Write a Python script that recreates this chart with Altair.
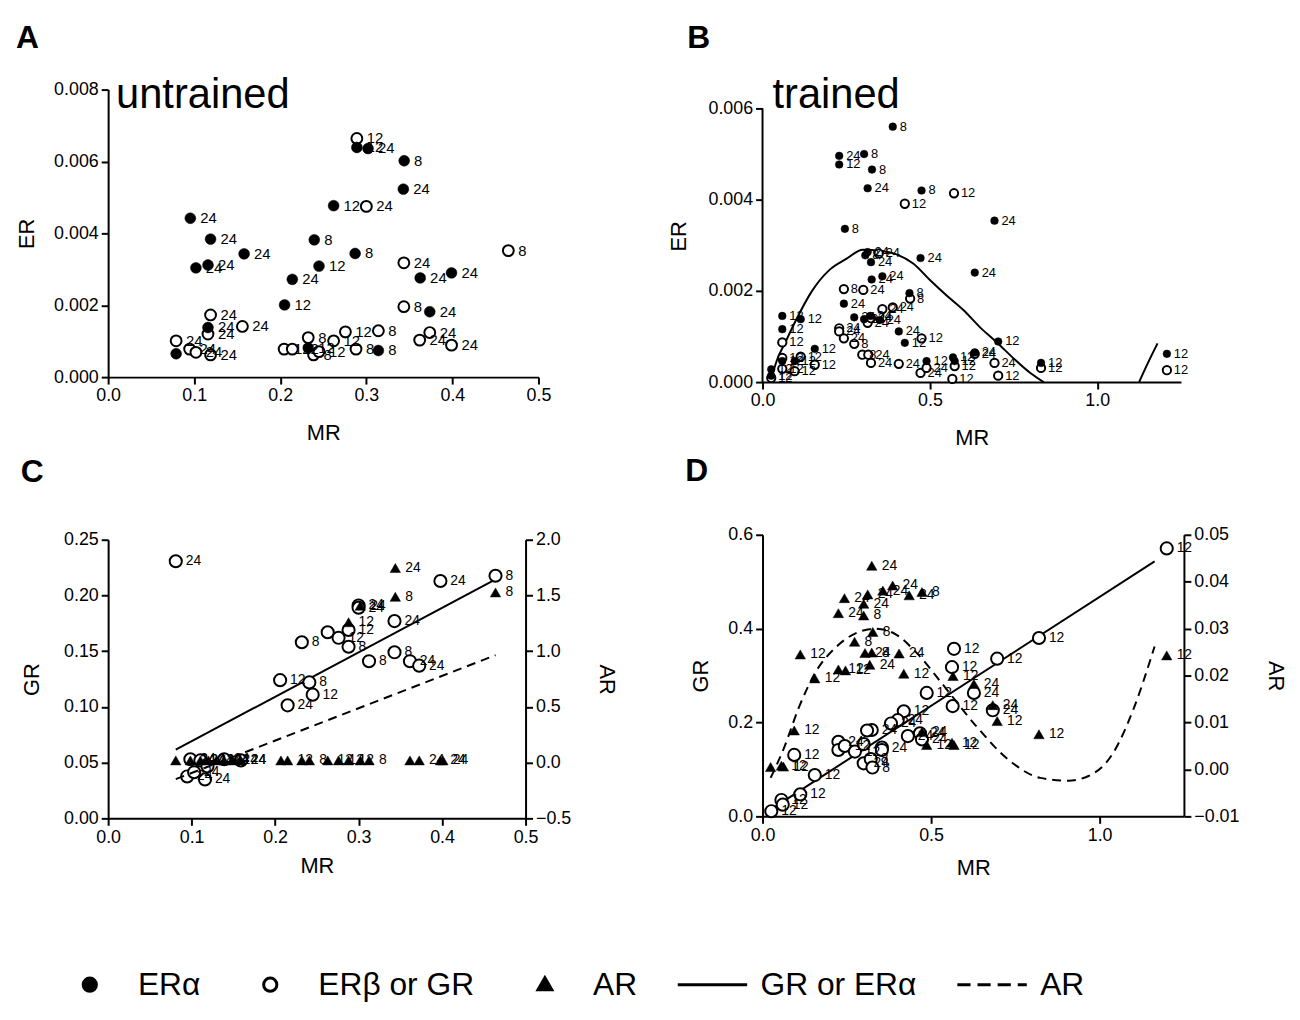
import altair as alt
import pandas as pd

FONT = "Liberation Sans, Arial, sans-serif"

# ---------------- Panel A (untrained) ----------------
A_era_x = [0.289, 0.302, 0.344, 0.343, 0.262, 0.0955, 0.119, 0.2395, 0.158, 0.287, 0.102, 0.116,
           0.245, 0.214, 0.3626, 0.399, 0.205, 0.3737, 0.116, 0.079, 0.2325, 0.314]
A_era_y = [0.00639, 0.00636, 0.00602, 0.00523, 0.00477, 0.00442, 0.00384, 0.00382, 0.00343, 0.00344,
           0.00304, 0.00312, 0.00309, 0.00272, 0.00276, 0.0029, 0.00201, 0.00182, 0.00138, 0.00065,
           0.00081, 0.00074]
A_era_lab = ["12", "24", "8", "24", "12", "24", "24", "8", "24", "8", "24", "24", "12", "24", "24", "24",
             "12", "24", "24", "", "12", "8"]

A_erb_x = [0.289, 0.300, 0.465, 0.3436, 0.3436, 0.119, 0.156, 0.116, 0.2757, 0.314, 0.3737, 0.362,
           0.399, 0.079, 0.0947, 0.102, 0.119, 0.2325, 0.262, 0.2045, 0.214, 0.2387, 0.245, 0.288]
A_erb_y = [0.00664, 0.00475, 0.00352, 0.00318, 0.00196, 0.00173, 0.00141, 0.0012, 0.00126, 0.00129,
           0.00124, 0.00103, 0.00089, 0.00101, 0.00078, 0.00069, 0.00062, 0.0011, 0.00101, 0.00078,
           0.00078, 0.00062, 0.00071, 0.00078]
A_erb_lab = ["12", "24", "8", "24", "8", "24", "24", "24", "12", "8", "24", "24", "24", "24", "24", "24",
             "24", "8", "12", "12", "12", "8", "12", "8"]

# ---------------- Panel B (trained) ----------------
B_era_x = [0.389, 0.229, 0.3035, 0.229, 0.327, 0.314, 0.475, 0.693, 0.246, 0.314, 0.307, 0.324, 0.472,
           0.634, 0.326, 0.358, 0.439, 0.243, 0.274, 0.3035, 0.322, 0.35, 0.059, 0.059, 0.114, 0.407,
           0.425, 0.704, 0.156, 0.096, 0.49, 0.569, 0.574, 0.634, 0.832, 1.208, 0.026, 0.026, 0.059]
B_era_y = [0.0056, 0.00496, 0.005, 0.00477, 0.00466, 0.00425, 0.0042, 0.00354, 0.00336, 0.00285,
           0.00278, 0.00263, 0.00272, 0.0024, 0.00225, 0.00232, 0.00195, 0.00172, 0.00142, 0.00138,
           0.00145, 0.00136, 0.00145, 0.00116, 0.00138, 0.00111, 0.00086, 0.00089, 0.00073, 0.00046,
           0.00046, 0.00054, 0.00046, 0.00065, 0.00042, 0.00062, 0.00028, 0.00014, 0.00046]
B_era_lab = ["8", "24", "8", "12", "8", "24", "8", "24", "8", "24", "8", "24", "24", "24", "24", "24",
             "8", "24", "24", "24", "24", "24", "12", "12", "12", "24", "12", "12", "12", "12", "12",
             "12", "12", "24", "12", "12", "12", "12", "12"]

B_erb_x = [0.425, 0.572, 0.347, 0.243, 0.301, 0.441, 0.358, 0.389, 0.314, 0.324, 0.229, 0.229, 0.243,
           0.274, 0.475, 0.059, 0.298, 0.316, 0.324, 0.407, 0.472, 0.49, 0.567, 0.634, 0.693, 0.704,
           0.832, 1.208, 0.059, 0.096, 0.114, 0.156, 0.059, 0.026, 0.574]
B_erb_y = [0.00391, 0.00414, 0.00282, 0.00204, 0.00202, 0.00183, 0.0016, 0.00164, 0.0013, 0.0014,
           0.00118, 0.00111, 0.00096, 0.00084, 0.00096, 0.00087, 0.0006, 0.0006, 0.00042, 0.0004,
           0.0002, 0.00031, 0.00007, 0.00062, 0.00042, 0.00014, 0.00031, 0.00026, 0.00053, 0.00024,
           0.00056, 0.00038, 0.00029, 0.00009, 0.00035]
B_erb_lab = ["12", "12", "24", "8", "24", "8", "24", "24", "24", "24", "24", "24", "24", "8", "12", "12",
             "8", "24", "24", "24", "24", "24", "12", "24", "24", "12", "12", "12", "12", "12", "12",
             "12", "12", "12", "12"]

# ERalpha fit curve, two visible pieces
B_fit_x = [0.023, 0.044, 0.07, 0.096, 0.148, 0.20, 0.25, 0.30, 0.35, 0.40, 0.45, 0.50, 0.55, 0.60,
           0.65, 0.70, 0.75, 0.80, 0.84, 1.125, 1.15, 1.18]
B_fit_y = [0.0, 0.0005, 0.0009, 0.0013, 0.0020, 0.00246, 0.0027, 0.0029, 0.00288, 0.0028, 0.0026,
           0.00224, 0.0019, 0.00158, 0.0012, 0.00087, 0.00052, 0.0002, 0.0, 0.0, 0.0004, 0.00085]
B_fit_seg = [1] * 19 + [2] * 3

# ---------------- Panel C ----------------
C_gr_x = [0.081, 0.464, 0.398, 0.300, 0.300, 0.343, 0.288, 0.263, 0.276, 0.232, 0.288, 0.343, 0.3125,
          0.3615, 0.3726, 0.206, 0.241, 0.245, 0.215, 0.0947, 0.103, 0.116, 0.0985, 0.1105, 0.119,
          0.159, 0.139]
C_gr_y = [0.2307, 0.2177, 0.213, 0.191, 0.189, 0.177, 0.169, 0.167, 0.162, 0.158, 0.154, 0.149, 0.141,
          0.141, 0.137, 0.124, 0.122, 0.111, 0.1014, 0.0376, 0.0414, 0.0349, 0.053, 0.052, 0.0467,
          0.052, 0.053]
C_gr_lab = ["24", "8", "24", "24", "24", "24", "12", "", "12", "8", "8", "8", "8", "24", "24", "12", "8",
            "12", "24", "24", "24", "24", "24", "24", "", "24", "24"]

C_ar_x = [0.344, 0.344, 0.464, 0.288, 0.302, 0.081, 0.0985, 0.1105, 0.12, 0.13, 0.139, 0.149, 0.159,
          0.207, 0.215, 0.232, 0.241, 0.263, 0.276, 0.288, 0.302, 0.3125, 0.3615, 0.3726, 0.398, 0.401]
C_ar_y = [1.746, 1.488, 1.527, 1.26, 1.408] + [0.02] * 21
C_ar_lab = ["24", "8", "8", "12", "24", "", "24", "24", "24", "24", "24", "24", "24", "", "12", "", "8",
            "12", "12", "12", "", "8", "", "24", "24", "24"]

C_grfit_x = [0.081, 0.464]
C_grfit_y = [0.0616, 0.2145]
C_arfit_x = [0.081, 0.464]
C_arfit_y = [-0.148, 0.964]

# ---------------- Panel D ----------------
D_gr_x = [1.199, 0.820, 0.696, 0.568, 0.562, 0.487, 0.627, 0.564, 0.683, 0.419, 0.401, 0.381, 0.431,
          0.467, 0.473, 0.324, 0.31, 0.225, 0.225, 0.244, 0.274, 0.30, 0.354, 0.354, 0.30, 0.321, 0.326,
          0.094, 0.155, 0.112, 0.056, 0.06, 0.026]
D_gr_y = [0.571, 0.380, 0.336, 0.357, 0.318, 0.263, 0.263, 0.235, 0.226, 0.224, 0.205, 0.198, 0.171,
          0.177, 0.164, 0.184, 0.183, 0.159, 0.1415, 0.15, 0.138, 0.154, 0.1465, 0.1415, 0.113, 0.122,
          0.104, 0.131, 0.088, 0.047, 0.035, 0.025, 0.011]
D_gr_lab = ["12", "12", "12", "12", "12", "12", "24", "12", "24", "12", "24", "24", "24", "24", "24",
            "24", "", "24", "", "12", "12", "", "24", "", "24", "8", "8", "12", "12", "12", "12", "12",
            "12"]

D_ar_x = [0.324, 0.386, 0.357, 0.312, 0.435, 0.473, 0.243, 0.30, 0.225, 0.30, 0.327, 0.273, 0.112,
          0.304, 0.324, 0.405, 0.318, 0.225, 0.246, 0.419, 0.155, 0.565, 0.627, 0.683, 0.696, 0.820,
          0.094, 0.473, 0.487, 0.562, 0.568, 0.024, 0.056, 0.062, 1.199]
D_ar_y = [0.0434, 0.0392, 0.0381, 0.0373, 0.0371, 0.0378, 0.0365, 0.0353, 0.0333, 0.0328, 0.0293,
          0.0272, 0.0245, 0.0248, 0.0249, 0.0247, 0.0223, 0.0213, 0.0211, 0.0204, 0.0194, 0.0199,
          0.0182, 0.0137, 0.0103, 0.0075, 0.0083, 0.008, 0.0052, 0.0057, 0.0052, 0.0005, 0.0008,
          0.0006, 0.0243]
D_ar_lab = ["24", "24", "24", "24", "24", "8", "24", "24", "24", "8", "8", "8", "12", "24", "8", "24",
            "24", "12", "12", "12", "12", "12", "24", "24", "12", "12", "12", "24", "12", "12", "12", "",
            "12", "12", "12"]

D_grfit_x = [0.008, 1.163]
D_grfit_y = [0.007, 0.5435]
D_arfit_x = [0.024, 0.062, 0.11, 0.157, 0.217, 0.276, 0.336, 0.395, 0.455, 0.538, 0.633, 0.729, 0.824,
             0.907, 0.967, 1.04, 1.10, 1.163]
D_arfit_y = [-0.0018, 0.0043, 0.0136, 0.0207, 0.026, 0.029, 0.030, 0.0288, 0.025, 0.0178, 0.0093,
             0.0021, -0.0018, -0.0024, -0.0014, 0.0035, 0.0128, 0.0262]

# ---------------- Legend ----------------
leg_keys = ["k1", "k2", "k3", "k4", "k5"]
leg_labels = ["ERα", "ERβ or GR", "AR", "GR or ERα", "AR"]


def df(x, y, lab=None):
    d = {"x": x, "y": y}
    if lab is not None:
        d["lab"] = lab
    return pd.DataFrame(d)


def pts(data, X, Y, filled, size, shape="circle", sw=2.0):
    if filled:
        m = alt.Chart(data).mark_point(shape=shape, filled=True, fill="black", stroke="black",
                                       strokeWidth=0.5, size=size, opacity=1)
    else:
        m = alt.Chart(data).mark_point(shape=shape, filled=False, fill="white", stroke="black",
                                       strokeWidth=sw, size=size, opacity=1, fillOpacity=1)
    return m.encode(x=X, y=Y)


def labs(data, X, Y, fs=14, dx=9):
    return alt.Chart(data).mark_text(align="left", baseline="middle", dx=dx, fontSize=fs, font=FONT,
                                     color="black").encode(x=X, y=Y, text="lab:N")


def xenc(dom, vals, tp):
    return alt.X("x:Q", scale=alt.Scale(domain=dom, nice=False, zero=False),
                 axis=alt.Axis(values=vals, format=".1f", title="MR", titlePadding=tp))


def ttl(letter, offset, dx):
    return alt.TitleParams(letter, anchor="start", offset=offset, dx=dx, frame="bounds",
                           fontSize=32, fontWeight="bold", font=FONT, color="black")


# ---- A ----
XA = xenc([0, 0.5], [0, 0.1, 0.2, 0.3, 0.4, 0.5], 18)
YA = alt.Y("y:Q", scale=alt.Scale(domain=[0, 0.008], nice=False),
           axis=alt.Axis(values=[0, 0.002, 0.004, 0.006, 0.008], format=".3f", title="ER", titlePadding=15))
dA1 = df(A_era_x, A_era_y, A_era_lab)
dA2 = df(A_erb_x, A_erb_y, A_erb_lab)
txtA = alt.Chart(pd.DataFrame({"t": ["untrained"]})).mark_text(
    align="left", baseline="alphabetic", fontSize=42, font=FONT, color="black").encode(
    text="t:N", x=alt.value(8), y=alt.value(19))
panelA = alt.layer(
    pts(dA2, XA, YA, False, 120), pts(dA1, XA, YA, True, 120),
    labs(dA1, XA, YA, 15, 10), labs(dA2, XA, YA, 15, 10), txtA
).properties(width=434, height=290, title=ttl("A", 20, 0))

# ---- B ----  (plot box 19px taller than the 0..0.006 span, the axis line is drawn up to 0.006 only)
XB = xenc([0, 1.25], [0, 0.5, 1.0], 18)
YB = alt.Y("y:Q", scale=alt.Scale(domain=[0, 0.006413], nice=False),
           axis=alt.Axis(values=[0, 0.002, 0.004, 0.006], format=".3f", title="ER", titlePadding=18,
                         domain=False))
dB1 = df(B_era_x, B_era_y, B_era_lab)
dB2 = df(B_erb_x, B_erb_y, B_erb_lab)
dBf = pd.DataFrame({"x": B_fit_x, "y": B_fit_y, "seg": B_fit_seg})
fitB = alt.Chart(dBf).mark_line(color="black", strokeWidth=2, interpolate="monotone").encode(
    x=XB, y=YB, detail="seg:N")
axisB = alt.Chart(pd.DataFrame({"y": [0.0], "y2": [0.006]})).mark_rule(
    color="black", strokeWidth=2).encode(x=alt.value(0), y=YB, y2="y2:Q")
txtB = alt.Chart(pd.DataFrame({"t": ["trained"]})).mark_text(
    align="left", baseline="alphabetic", fontSize=42, font=FONT, color="black").encode(
    text="t:N", x=alt.value(10), y=alt.value(19))
panelB = alt.layer(
    axisB, fitB, pts(dB2, XB, YB, False, 70), pts(dB1, XB, YB, True, 60),
    labs(dB1, XB, YB, 13, 7), labs(dB2, XB, YB, 13, 7), txtB
).properties(width=422, height=295, title=ttl("B", 20, 20))

# ---- C ----
XC = xenc([0, 0.5], [0, 0.1, 0.2, 0.3, 0.4, 0.5], 10)
YCl = alt.Y("y:Q", scale=alt.Scale(domain=[0, 0.25], nice=False),
            axis=alt.Axis(values=[0, 0.05, 0.10, 0.15, 0.20, 0.25], format=".2f", title="GR",
                          titlePadding=20))
YCr = alt.Y("y:Q", scale=alt.Scale(domain=[-0.5, 2.0], nice=False),
            axis=alt.Axis(values=[-0.5, 0, 0.5, 1.0, 1.5, 2.0], format=".1f", title="AR", orient="right",
                          titlePadding=24))
dCg = df(C_gr_x, C_gr_y, C_gr_lab)
dCa = df(C_ar_x, C_ar_y, C_ar_lab)
leftC = alt.layer(
    alt.Chart(df(C_grfit_x, C_grfit_y)).mark_line(color="black", strokeWidth=2).encode(x=XC, y=YCl),
    pts(dCg, XC, YCl, False, 150),
    labs(dCg, XC, YCl, 14, 10),
)
rightC = alt.layer(
    alt.Chart(df(C_arfit_x, C_arfit_y)).mark_line(color="black", strokeWidth=2, strokeDash=[9, 6]).encode(
        x=XC, y=YCr),
    pts(dCa, XC, YCr, True, 110, shape="triangle-up"),
    labs(dCa, XC, YCr, 14, 10),
)
panelC = alt.layer(leftC, rightC).resolve_scale(y="independent").properties(
    width=421, height=281, title=ttl("C", 42, 0))

# ---- D ----
XD = xenc([0, 1.25], [0, 0.5, 1.0], 14)
YDl = alt.Y("y:Q", scale=alt.Scale(domain=[0, 0.6], nice=False),
            axis=alt.Axis(values=[0, 0.2, 0.4, 0.6], format=".1f", title="GR", titlePadding=15))
YDr = alt.Y("y:Q", scale=alt.Scale(domain=[-0.01, 0.05], nice=False),
            axis=alt.Axis(values=[-0.01, 0, 0.01, 0.02, 0.03, 0.04, 0.05], format=".2f", title="AR",
                          orient="right", titlePadding=25))
dDg = df(D_gr_x, D_gr_y, D_gr_lab)
dDa = df(D_ar_x, D_ar_y, D_ar_lab)
leftD = alt.layer(
    alt.Chart(df(D_grfit_x, D_grfit_y)).mark_line(color="black", strokeWidth=2).encode(x=XD, y=YDl),
    pts(dDg, XD, YDl, False, 150),
    labs(dDg, XD, YDl, 14, 10),
)
rightD = alt.layer(
    alt.Chart(df(D_arfit_x, D_arfit_y)).mark_line(color="black", strokeWidth=2, strokeDash=[9, 6],
                                                  interpolate="monotone").encode(x=XD, y=YDr),
    pts(dDa, XD, YDr, True, 110, shape="triangle-up"),
    labs(dDa, XD, YDr, 14, 10),
)
panelD = alt.layer(leftD, rightD).resolve_scale(y="independent").properties(
    width=425, height=284, title=ttl("D", 38, -5))

# ---- Legend row ----
circ = "M-0.19,0A0.19,0.19 0 1,0 0.19,0A0.19,0.19 0 1,0 -0.19,0Z"
tri = "M0,-0.2L0.2,0.15L-0.2,0.15Z"
solid_path = "M-1,0L1,0"
dash_path = "M-1,0L-0.62,0M-0.42,0L-0.04,0M0.16,0L0.54,0M0.74,0L1,0"
legend_params = dict(orient="none", legendX=-55, legendY=866, direction="horizontal", columns=5,
                     title=None, labelFontSize=32, labelFont=FONT, labelColor="black", labelLimit=400,
                     labelOffset=12, columnPadding=34, symbolStrokeColor="black", symbolStrokeWidth=3,
                     symbolSize=4900,
                     labelExpr="{'k1':'ERα','k2':'ERβ or GR','k3':'AR','k4':'GR or ERα','k5':'AR'}[datum.value]")
legend_chart = alt.Chart(pd.DataFrame({"key": leg_keys, "name": leg_labels})).transform_filter(
    "false").mark_point(opacity=1, size=4900).encode(
    shape=alt.Shape("key:N", scale=alt.Scale(domain=leg_keys,
                                             range=[circ, circ, tri, solid_path, dash_path]),
                    legend=alt.Legend(**legend_params)),
    fill=alt.Fill("key:N", scale=alt.Scale(domain=leg_keys,
                                           range=["black", "white", "black", "black", "black"]),
                  legend=alt.Legend(**legend_params)),
    stroke=alt.Stroke("key:N", scale=alt.Scale(domain=leg_keys,
                                               range=["black", "black", "black", "black", "black"]),
                      legend=alt.Legend(**legend_params)),
).properties(width=10, height=10)

col1 = alt.vconcat(panelA, panelC, spacing=13)
col2 = alt.vconcat(panelB, panelD, spacing=7)
top = alt.hconcat(col1, col2, spacing=49)

chart = alt.vconcat(top, legend_chart, spacing=10).properties(
    padding={"left": 7, "top": 10, "right": 5, "bottom": 5}
).configure_axis(
    domainColor="black", domainWidth=2, tickColor="black", tickWidth=2, tickSize=7,
    labelColor="black", labelFont=FONT, labelFontSize=18, labelPadding=3, labelFlush=False,
    titleFont=FONT, titleFontSize=22, titleFontWeight="normal", titleColor="black", grid=False,
    labelOverlap=False
).configure_view(stroke=None)

chart.save("out.html", embed_options={"renderer": "svg", "actions": False})
